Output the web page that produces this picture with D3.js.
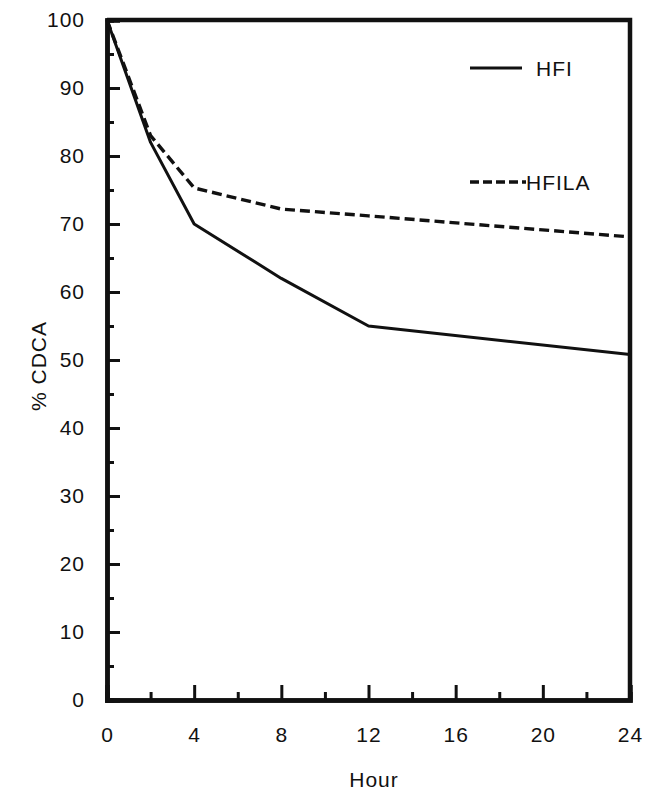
<!DOCTYPE html>
<html>
<head>
<meta charset="utf-8">
<script src="https://cdn.jsdelivr.net/npm/d3@7"></script>
<style>
  html, body { margin: 0; padding: 0; background: #fff; }
  svg { display: block; }
  text { font-family: "Liberation Sans", Arial, Helvetica, sans-serif; fill: #111; }
</style>
</head>
<body>
<svg id="chart" width="646" height="797"></svg>
<script>
// Time points (hours) and % CDCA remaining for each formulation
const hours = [0, 2, 4, 8, 12, 24];
const hfi = [100, 82, 70, 62, 55, 50.8];
const hfila = [100, 83, 75.3, 72.2, 71.2, 68.1];

const xMajorTicks = [0, 4, 8, 12, 16, 20, 24];
const xMinorTicks = [2, 6, 10, 14, 18, 22];
const yMajorTicks = [0, 10, 20, 30, 40, 50, 60, 70, 80, 90, 100];
const yMinorTicks = [5, 15, 25, 35, 45, 55, 65, 75, 85, 95];

const seriesNames = ["HFI", "HFILA"];
const xTitle = "Hour";
const yTitle = "% CDCA";

const plotLeft = 107, plotRight = 630, plotTop = 20, plotBottom = 700;
const svg = d3.select("#chart");

const x = d3.scaleLinear().domain([0, 24]).range([plotLeft, plotRight]);
const y = d3.scaleLinear().domain([0, 100]).range([plotBottom, plotTop]);

const ink = "#111";
const fontSize = 21;

// Frame: thick top and right edges
svg.append("path")
  .attr("d", `M${plotLeft},${plotTop} H${plotRight} V${plotBottom}`)
  .attr("fill", "none").attr("stroke", ink).attr("stroke-width", 4.5)
  .attr("stroke-linejoin", "miter");

// Y axis: major and minor ticks pointing inward
const yMajor = svg.append("g").attr("transform", `translate(${plotLeft},0)`)
  .call(d3.axisLeft(y).tickValues(yMajorTicks).tickSize(-13).tickPadding(22).tickFormat(d3.format("d")));
const yMinor = svg.append("g").attr("transform", `translate(${plotLeft},0)`)
  .call(d3.axisLeft(y).tickValues(yMinorTicks).tickSize(-7).tickFormat(""));

// X axis: major and minor ticks pointing inward
const xMajor = svg.append("g").attr("transform", `translate(0,${plotBottom})`)
  .call(d3.axisBottom(x).tickValues(xMajorTicks).tickSize(-15).tickPadding(27).tickFormat(d3.format("d")));
const xMinor = svg.append("g").attr("transform", `translate(0,${plotBottom})`)
  .call(d3.axisBottom(x).tickValues(xMinorTicks).tickSize(-8).tickFormat(""));

[yMajor, yMinor, xMajor, xMinor].forEach(g => {
  g.select(".domain").attr("stroke", ink).attr("stroke-width", 4.5);
  g.selectAll(".tick line").attr("stroke", ink).attr("stroke-width", 3);
  g.selectAll(".tick text")
    .attr("font-size", fontSize).attr("letter-spacing", "1px").attr("fill", ink)
    .attr("font-family", "'Liberation Sans', Arial, sans-serif");
});
yMajor.selectAll(".tick text").attr("text-anchor", "end");

// Axis titles
svg.append("text")
  .attr("x", 374).attr("y", 787)
  .attr("text-anchor", "middle").attr("font-size", fontSize).attr("letter-spacing", "1px")
  .text(xTitle);
svg.append("text")
  .attr("transform", `translate(46,366) rotate(-90)`)
  .attr("text-anchor", "middle").attr("font-size", fontSize).attr("letter-spacing", "1px")
  .text(yTitle);

// Series lines
const line = d3.line().x((d, i) => x(hours[i])).y(d => y(d));

svg.append("path").datum(hfi)
  .attr("d", line).attr("fill", "none")
  .attr("stroke", ink).attr("stroke-width", 3).attr("stroke-linejoin", "round");

svg.append("path").datum(hfila)
  .attr("d", line).attr("fill", "none")
  .attr("stroke", ink).attr("stroke-width", 3.4)
  .attr("stroke-dasharray", "10,5");

// Legend
const legend = svg.append("g");
legend.append("line").attr("x1", 470).attr("x2", 522).attr("y1", 68).attr("y2", 68)
  .attr("stroke", ink).attr("stroke-width", 3);
legend.append("text").attr("x", 536).attr("y", 76)
  .attr("font-size", fontSize).attr("letter-spacing", "1px").text(seriesNames[0]);
legend.append("line").attr("x1", 470).attr("x2", 526).attr("y1", 182).attr("y2", 182)
  .attr("stroke", ink).attr("stroke-width", 3.4).attr("stroke-dasharray", "9,4");
legend.append("text").attr("x", 526).attr("y", 190)
  .attr("font-size", fontSize).attr("letter-spacing", "1px").text(seriesNames[1]);
</script>
</body>
</html>
